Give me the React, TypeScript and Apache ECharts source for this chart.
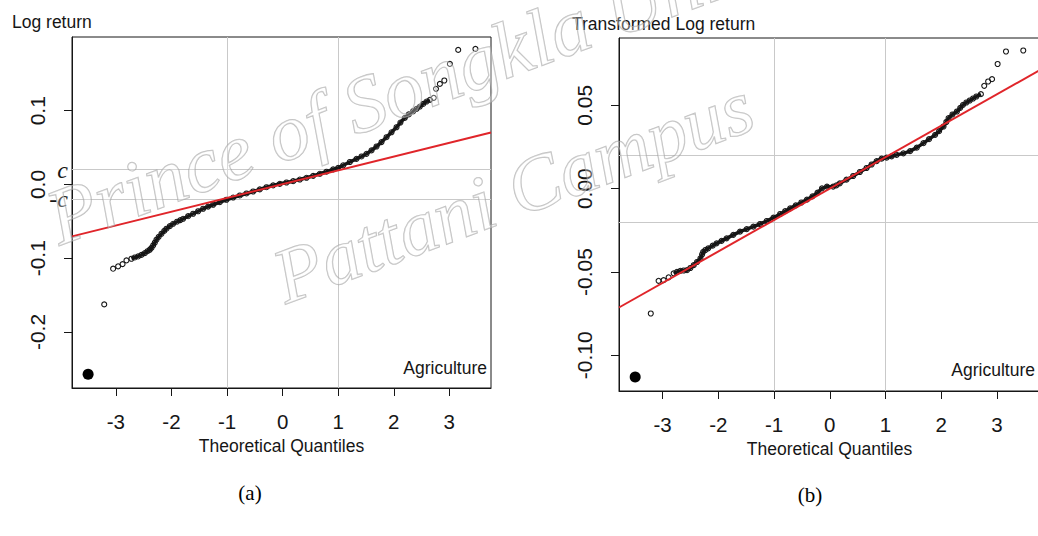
import React, { useEffect, useRef } from "react";
import * as echarts from "echarts";

// ---------- data ----------
const X_TICKS = [-3, -2, -1, 0, 1, 2, 3];
const LEFT_Y_TICKS = [-0.2, -0.1, 0, 0.1];
const RIGHT_Y_TICKS = [-0.1, -0.05, 0, 0.05];
const GRID_X = [-1, 1];
const LEFT_C = 0.019;
const RIGHT_C = 0.016;

// Panel (a): Log return, sample quantiles vs theoretical quantiles
const LEFT_DENSE: number[][] = [
  [-2.72, -0.1007], [-2.66, -0.099], [-2.6, -0.0976], [-2.54, -0.0955], [-2.48, -0.0931],
  [-2.43, -0.0905], [-2.39, -0.0885], [-2.36, -0.086], [-2.33, -0.0827], [-2.3, -0.079],
  [-2.27, -0.0749], [-2.23, -0.071], [-2.18, -0.0668], [-2.13, -0.063], [-2.09, -0.06],
  [-2.03, -0.0565], [-1.97, -0.0533], [-1.9, -0.0505], [-1.84, -0.0483], [-1.79, -0.0465],
  [-1.7, -0.043], [-1.61, -0.0397], [-1.52, -0.0363], [-1.43, -0.0329], [-1.34, -0.03],
  [-1.25, -0.0275], [-1.13, -0.024], [-1.01, -0.0207], [-0.89, -0.0177], [-0.77, -0.0149],
  [-0.65, -0.0122], [-0.53, -0.0095], [-0.41, -0.0066], [-0.29, -0.0037], [-0.17, -0.0012],
  [-0.05, 0.0009], [0.07, 0.0027], [0.19, 0.0045], [0.31, 0.0067], [0.43, 0.0091],
  [0.55, 0.0117], [0.67, 0.0145], [0.79, 0.0173], [0.91, 0.0205], [1.0, 0.0226],
  [1.09, 0.026], [1.21, 0.0305], [1.33, 0.0348], [1.42, 0.038], [1.51, 0.0416],
  [1.6, 0.0462], [1.69, 0.0515], [1.78, 0.0575], [1.87, 0.0641], [1.96, 0.0708],
  [2.05, 0.0776], [2.12, 0.084], [2.2, 0.0904], [2.27, 0.095], [2.35, 0.0993],
  [2.41, 0.1025], [2.47, 0.1057], [2.53, 0.1092], [2.59, 0.1125], [2.65, 0.1148],
];
const LEFT_SPARSE: number[][] = [
  [-3.21, -0.1626], [-3.05, -0.1142], [-2.96, -0.111], [-2.88, -0.108], [-2.81, -0.103],
  [2.72, 0.1175], [2.76, 0.1297], [2.83, 0.1364], [2.91, 0.141], [3.01, 0.1635],
  [3.16, 0.1825], [3.47, 0.1838],
];
const LEFT_QQLINE: number[][] = [[-3.79, -0.0704], [3.75, 0.0705]];
const LEFT_DOT: number[][] = [[-3.5, -0.2575]];

// Panel (b): Transformed Log return
const RIGHT_DENSE: number[][] = [
  [-2.8, -0.0508], [-2.74, -0.0499], [-2.68, -0.0493], [-2.62, -0.0491], [-2.56, -0.0489],
  [-2.5, -0.0476], [-2.44, -0.0459], [-2.38, -0.044], [-2.32, -0.0418], [-2.29, -0.0395],
  [-2.27, -0.0379], [-2.23, -0.0368], [-2.18, -0.0358], [-2.1, -0.0342], [-2.03, -0.0328],
  [-1.94, -0.0313], [-1.85, -0.0298], [-1.73, -0.0277], [-1.61, -0.0258], [-1.49, -0.0243],
  [-1.37, -0.0228], [-1.25, -0.0212], [-1.13, -0.0194], [-1.01, -0.0174], [-0.89, -0.0152],
  [-0.8, -0.0135], [-0.71, -0.0118], [-0.61, -0.01], [-0.51, -0.0083], [-0.41, -0.0066],
  [-0.31, -0.0046], [-0.22, -0.0024], [-0.14, 0.0002], [-0.05, 0.0012], [0.06, 0.0012],
  [0.12, 0.002], [0.18, 0.0032], [0.3, 0.0054], [0.42, 0.0076], [0.54, 0.01],
  [0.66, 0.0124], [0.75, 0.0145], [0.84, 0.0165], [0.93, 0.018], [1.02, 0.0186],
  [1.11, 0.0194], [1.2, 0.0203], [1.32, 0.0212], [1.44, 0.0225], [1.56, 0.0246],
  [1.68, 0.0273], [1.78, 0.0297], [1.89, 0.0323], [1.96, 0.0345], [2.04, 0.0373],
  [2.09, 0.04], [2.13, 0.0423], [2.2, 0.0445], [2.28, 0.0463], [2.34, 0.0485],
  [2.39, 0.0503], [2.45, 0.0517], [2.51, 0.0529], [2.57, 0.0541], [2.63, 0.0553],
  [2.71, 0.0567],
];
const RIGHT_SPARSE: number[][] = [
  [-3.21, -0.0749], [-3.07, -0.0553], [-2.98, -0.0549], [-2.89, -0.0532],
  [2.77, 0.0617], [2.84, 0.0643], [2.91, 0.0657], [3.01, 0.0748], [3.16, 0.0823],
  [3.47, 0.0829],
];
const RIGHT_QQLINE: number[][] = [[-3.78, -0.0713], [3.77, 0.0712]];
const RIGHT_DOT: number[][] = [[-3.49, -0.113]];

const PANEL_TITLES = ["Log return", "Transformed Log return"];
const X_TITLE = "Theoretical Quantiles";
const SECTOR_LABEL = "Agriculture";
const CAPTIONS = ["(a)", "(b)"];
const WATERMARK = ["Prince of Songkla University", "Pattani Campus"];

// ---------- styles ----------
const INK = "#161616";
const SANS = "'Liberation Sans', Arial, sans-serif";
const SERIF = "'Liberation Serif', 'Times New Roman', serif";
const GRIDLINE = "#c9c9c9";
const RED = "#e0252a";

function xAxisCfg(idx: number, min: number, max: number) {
  return {
    type: "value",
    gridIndex: idx,
    min,
    max,
    name: X_TITLE,
    nameLocation: "middle",
    nameGap: 46,
    nameTextStyle: { fontFamily: SANS, fontSize: 17.5, color: INK },
    axisLine: { show: true, onZero: false, lineStyle: { color: INK, width: 1 } },
    axisTick: { show: true, inside: false, length: 8, customValues: X_TICKS, lineStyle: { color: INK } },
    axisLabel: { customValues: X_TICKS, margin: 23, fontFamily: SANS, fontSize: 20.5, color: INK },
    splitLine: { show: false },
  };
}

function yAxisCfg(idx: number, min: number, max: number, ticks: number[], digits: number) {
  return {
    type: "value",
    gridIndex: idx,
    min,
    max,
    axisLine: { show: true, onZero: false, lineStyle: { color: INK, width: 1 } },
    axisTick: { show: true, inside: false, length: 8, customValues: ticks, lineStyle: { color: INK } },
    axisLabel: {
      customValues: ticks,
      rotate: 90,
      margin: 24,
      fontFamily: SANS,
      fontSize: 21,
      color: INK,
      formatter: (v: number) => v.toFixed(digits),
    },
    splitLine: { show: false },
  };
}

function panelSeries(idx: number, dense: number[][], sparse: number[][], qq: number[][], dot: number[][], c: number, cLabels: boolean) {
  const cLabel = (txt: string) =>
    cLabels
      ? { show: true, position: "start", distance: 4, formatter: txt, fontFamily: SERIF, fontStyle: "italic", fontSize: 24, color: INK }
      : { show: false };
  return [
    {
      type: "line",
      xAxisIndex: idx,
      yAxisIndex: idx,
      data: dense,
      showSymbol: false,
      symbol: "none",
      lineStyle: { color: INK, width: 3.5, opacity: 1 },
      z: 2,
      markLine: {
        silent: true,
        symbol: ["none", "none"],
        animation: false,
        lineStyle: { color: GRIDLINE, type: "solid", width: 1 },
        label: { show: false },
        emphasis: { disabled: true },
        data: [
          ...GRID_X.map((v) => ({ xAxis: v })),
          { yAxis: c, label: cLabel("c") },
          { yAxis: -c, label: cLabel("-c") },
        ],
        z: 1,
      },
    },
    {
      type: "scatter",
      xAxisIndex: idx,
      yAxisIndex: idx,
      data: [...dense, ...sparse],
      symbol: "circle",
      symbolSize: 5,
      itemStyle: { color: "rgba(0,0,0,0)", borderColor: INK, borderWidth: 1.1, opacity: 1 },
      z: 3,
    },
    {
      type: "scatter",
      xAxisIndex: idx,
      yAxisIndex: idx,
      data: dot,
      symbol: "circle",
      symbolSize: 11,
      itemStyle: { color: "#000", opacity: 1 },
      z: 3,
    },
    {
      type: "line",
      xAxisIndex: idx,
      yAxisIndex: idx,
      data: qq,
      showSymbol: false,
      symbol: "none",
      lineStyle: { color: RED, width: 2 },
      z: 4,
    },
  ];
}

export default function App() {
  const ref = useRef<HTMLDivElement>(null);

  useEffect(() => {
    if (!ref.current) return;
    const chart = echarts.init(ref.current, undefined, { renderer: "svg" });
    const deg = Math.PI / 180;
    const wmStyle = (text: string, size: number) => ({
      text,
      font: `italic ${size}px ${SERIF}`,
      fill: "rgba(255,255,255,0.3)",
      stroke: "rgba(150,150,150,0.6)",
      lineWidth: 1.3,
      verticalAlign: "bottom",
    });
    const option: any = {
      animation: false,
      backgroundColor: "#ffffff",
      grid: [
        { left: 72, top: 37, width: 419, height: 351, show: true, borderColor: INK, borderWidth: 1, backgroundColor: "rgba(0,0,0,0)", containLabel: false, outerBoundsMode: "none" },
        { left: 619, top: 38, width: 421, height: 353, show: true, borderColor: INK, borderWidth: 1, backgroundColor: "rgba(0,0,0,0)", containLabel: false, outerBoundsMode: "none" },
      ],
      xAxis: [xAxisCfg(0, -3.79, 3.75), xAxisCfg(1, -3.78, 3.77)],
      yAxis: [
        yAxisCfg(0, -0.276, 0.2, LEFT_Y_TICKS, 1),
        yAxisCfg(1, -0.1214, 0.0904, RIGHT_Y_TICKS, 2),
      ],
      series: [
        ...panelSeries(0, LEFT_DENSE, LEFT_SPARSE, LEFT_QQLINE, LEFT_DOT, LEFT_C, true),
        ...panelSeries(1, RIGHT_DENSE, RIGHT_SPARSE, RIGHT_QQLINE, RIGHT_DOT, RIGHT_C, false),
      ],
      graphic: [
        { type: "text", left: 12, top: 13, style: { text: PANEL_TITLES[0], font: `17.5px ${SANS}`, fill: INK } },
        { type: "text", left: 572, top: 15, style: { text: PANEL_TITLES[1], font: `17.5px ${SANS}`, fill: INK } },
        { type: "text", x: 487, y: 368, style: { text: SECTOR_LABEL, font: `17.5px ${SANS}`, fill: INK, align: "right", verticalAlign: "middle" } },
        { type: "text", x: 1035, y: 370, style: { text: SECTOR_LABEL, font: `17.5px ${SANS}`, fill: INK, align: "right", verticalAlign: "middle" } },
        { type: "text", x: 250, y: 493, style: { text: CAPTIONS[0], font: `21px ${SERIF}`, fill: "#000", align: "center", verticalAlign: "middle" } },
        { type: "text", x: 810, y: 495, style: { text: CAPTIONS[1], font: `21px ${SERIF}`, fill: "#000", align: "center", verticalAlign: "middle" } },
        { type: "text", x: 64, y: 258, rotation: 20.5 * deg, z: 100, silent: true, style: wmStyle(WATERMARK[0], 80) },
        { type: "text", x: 290, y: 316, rotation: 20.5 * deg, z: 100, silent: true, style: wmStyle(WATERMARK[1], 78) },
      ],
    };
    chart.setOption(option);
    return () => chart.dispose();
  }, []);

  return (
    <div
      ref={ref}
      style={{ position: "fixed", left: 0, top: 0, width: 1038, height: 536, background: "#fff" }}
    />
  );
}
